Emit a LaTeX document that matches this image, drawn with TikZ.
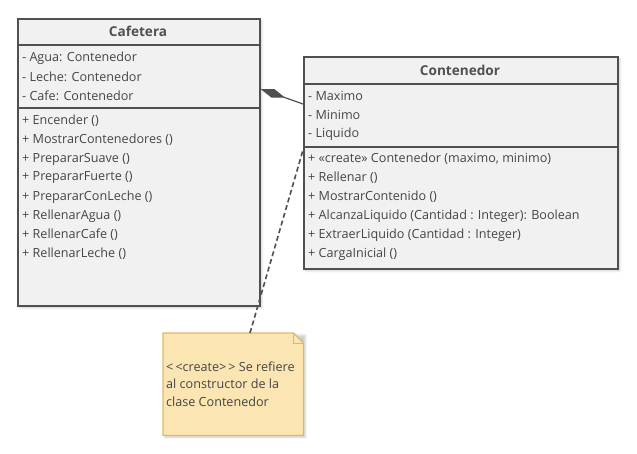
\documentclass[tikz,border=0pt]{standalone}
\usepackage{fontspec}
\setmainfont{Open Sans}
\usetikzlibrary{arrows.meta,shadows.blur}

\definecolor{boxfill}{HTML}{F1F1F1}
\definecolor{boxline}{HTML}{505050}
\definecolor{textcol}{HTML}{454545}
\definecolor{notefill}{HTML}{FBE5B2}
\definecolor{noteline}{HTML}{E0B865}

\tikzset{
  classbox/.style={draw=boxline, line width=1.6pt, fill=boxfill, inner sep=0pt, anchor=north west,
    blur shadow={shadow xshift=2pt, shadow yshift=-2pt, shadow opacity=20, shadow blur steps=6}},
  classname/.style={font=\bfseries\fontsize{13.6}{15}\selectfont, text=boxline},
  member/.style={anchor=west, inner sep=0pt, font=\fontsize{12.6}{14}\selectfont, text=textcol},
  divider/.style={draw=boxline, line width=1.6pt},
}

\begin{document}
\begin{tikzpicture}[x=1pt, y=-1pt]
\useasboundingbox (0,0) rectangle (637,454);

% classes
\node[classbox, minimum width=242pt, minimum height=287pt] (cafetera) at (17,18) {};
\node[classname] (cafeteraname) at (138,31) {Cafetera};
\draw[divider] (cafetera.west |- 0,45) -- (cafetera.east |- 0,45);
\draw[divider] (cafetera.west |- 0,108) -- (cafetera.east |- 0,108);
\foreach \txt [count=\i] in {{- Agua: Contenedor}, {- Leche: Contenedor}, {- Cafe: Contenedor}}
  \node[member] (cafattr\i) at (22, 39+19*\i) {\txt};
\foreach \txt [count=\i] in {{+ Encender ()}, {+ MostrarContenedores ()}, {+ PrepararSuave ()},
    {+ PrepararFuerte ()}, {+ PrepararConLeche ()}, {+ RellenarAgua ()}, {+ RellenarCafe ()},
    {+ RellenarLeche ()}}
  \node[member] (cafop\i) at (22, 102+19*\i) {\txt};

\node[classbox, minimum width=314pt, minimum height=212pt] (contenedor) at (303,56) {};
\node[classname] (contenedorname) at (460,70) {Contenedor};
\draw[divider] (contenedor.west |- 0,84) -- (contenedor.east |- 0,84);
\draw[divider] (contenedor.west |- 0,147) -- (contenedor.east |- 0,147);
\foreach \txt [count=\i] in {{- Maximo}, {- Minimo}, {- Liquido}}
  \node[member] (contattr\i) at (308, 77+19*\i) {\txt};
\foreach \txt [count=\i] in {{+ «create» Contenedor (maximo, minimo)}, {+ Rellenar ()},
    {+ MostrarContenido ()}, {+ AlcanzaLiquido (Cantidad : Integer): Boolean},
    {+ ExtraerLiquido (Cantidad : Integer)}, {+ CargaInicial ()}}
  \node[member] (contop\i) at (308, 140+19*\i) {\txt};

% note
\node[inner sep=0pt, minimum width=140pt, minimum height=102pt, anchor=north west,
  blur shadow={shadow xshift=2pt, shadow yshift=-2pt, shadow opacity=20, shadow blur steps=6}] (note) at (163,333) {};
\draw[noteline, line width=1.2pt, fill=notefill] (note.south west) -- (note.north west)
  -- ([xshift=-10pt]note.north east) -- ([yshift=-10pt]note.north east) -- (note.south east) -- cycle;
\draw[noteline, line width=0.8pt] ([xshift=-10pt]note.north east) |- ([yshift=-10pt]note.north east);
\node[member, align=left, font=\fontsize{12.6}{17.5}\selectfont] (notetext) at (166,384)
  {<\,<create>\,> Se refiere\\al constructor de la\\clase Contenedor};

% connectors
\coordinate (comphead) at (cafetera.east |- 0,89);
\coordinate (comptail) at (contenedor.west |- 0,104);
\draw[boxline, line width=1.2pt, -{Diamond[length=26pt, width=9pt]}] (comptail) -- (comphead);
\coordinate (notehook) at (note.north -| 250,0);
\coordinate (createhook) at (contenedor.west |- 0,150);
\draw[boxline, line width=1.6pt, dash pattern=on 5pt off 3pt] (notehook) -- (createhook);
\end{tikzpicture}
\end{document}
